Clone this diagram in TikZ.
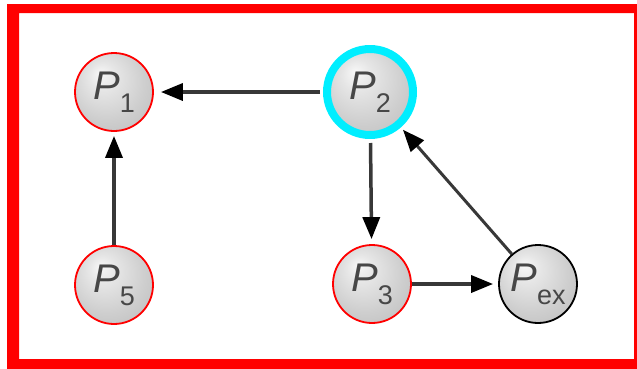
\documentclass[tikz,border=0pt]{standalone}
\usepackage{fontspec}
\setmainfont{Liberation Sans}
\usetikzlibrary{arrows.meta}

\definecolor{ringcyan}{RGB}{0,238,255}
\definecolor{framered}{RGB}{255,0,0}

% soft grey sphere fill for the process nodes
\pgfdeclareradialshading{sphere}{\pgfpoint{-9bp}{12bp}}{%
  color(0bp)=(white!94!gray);
  color(9bp)=(gray!20);
  color(24bp)=(gray!38);
  color(38bp)=(gray!52);
  color(50bp)=(gray!60)}

\newcommand\plab[1]{\textit{P}\raisebox{-13pt}{\fontsize{27}{27}\selectfont #1}}

\tikzset{
  proc/.style={circle, minimum size=78pt, inner sep=0pt, shading=sphere,
    text=black!72, font=\fontsize{40}{40}\selectfont},
  marked/.style={proc, draw=framered, line width=1.8pt},
  plain/.style={proc, draw=black, line width=1.8pt},
  active/.style={proc, minimum size=86pt, draw=ringcyan, line width=8pt},
  link/.style={draw=black!78, line width=3.5pt,
    -{Triangle[length=22pt,width=17pt,color=black]}},
}

\begin{document}
\begin{tikzpicture}[x=1pt,y=-1pt]
  \useasboundingbox (0,0) rectangle (637,368);

  % red frame
  \fill[framered, even odd rule] (7,4) rectangle (640,370)
                                 (19,13) rectangle (634,359);

  % processes
  \node[marked] (p1)  at (114,92)  {\plab{1}};
  \node[active] (p2)  at (370,92)  {\plab{2}};
  \node[marked] (p3)  at (372,284) {\plab{3}};
  \node[plain]  (pex) at (538,284) {\plab{ex}};
  \node[marked] (p5)  at (114,285) {\plab{5}};

  % wait-for edges
  \draw[link, shorten <=3pt, shorten >=7pt] (p2) -- (p1);
  \draw[link, shorten >=4pt] (p5) -- (p1);
  \draw[link, shorten <=4pt, shorten >=5pt] (p2) -- (p3);
  \draw[link, shorten >=5pt] (p3) -- (pex);
  \draw[link, line width=3pt, shorten >=3pt] (pex) -- (p2);
\end{tikzpicture}
\end{document}
